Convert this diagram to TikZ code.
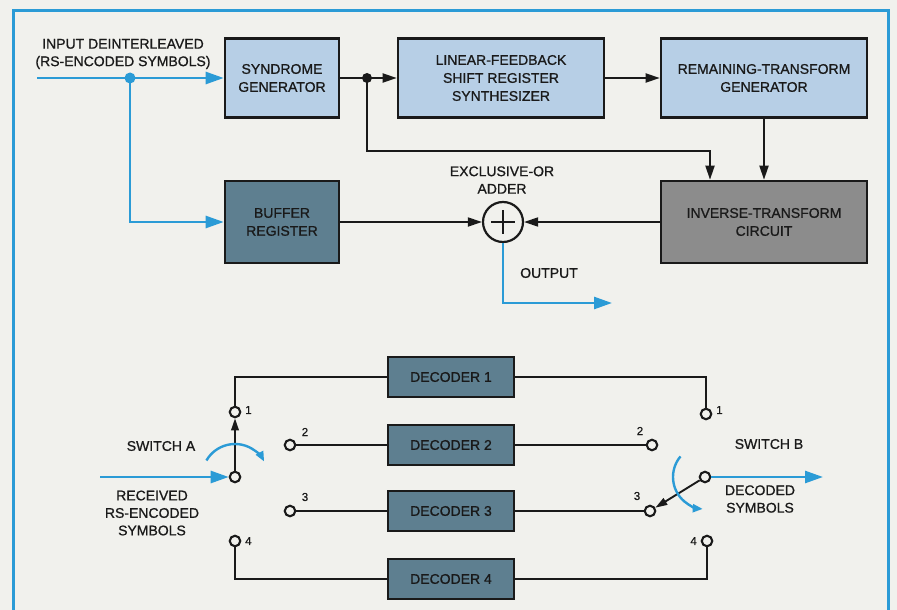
\documentclass[tikz,border=0pt]{standalone}
\usepackage{fontspec}
\setmainfont{Liberation Sans}[BoldFont={Liberation Sans}, BoldFeatures={FakeBold=0.9}]
\usetikzlibrary{arrows.meta,calc}

\definecolor{paper}{HTML}{F1F1ED}
\definecolor{frameblue}{HTML}{2B9BD6}
\definecolor{lightbox}{HTML}{B7CFE6}
\definecolor{darkbox}{HTML}{5E7F90}
\definecolor{greybox}{HTML}{8C8C8C}
\definecolor{ink}{HTML}{1A1A1A}

\tikzset{
  block/.style={draw=ink, line width=2.6pt, inner sep=0pt, align=center,
    font=\fontsize{14}{18}\selectfont\bfseries, text=ink},
  lightblock/.style={block, fill=lightbox},
  darkblock/.style={block, fill=darkbox, text=black!90},
  greyblock/.style={block, fill=greybox},
  wire/.style={draw=ink, line width=1.9pt},
  bluewire/.style={draw=frameblue, line width=2.6pt},
  tip/.style={-{Triangle[length=14pt,width=9pt]}},
  smalltip/.style={-{Triangle[length=12pt,width=7.5pt]}},
  bluetip/.style={-{Triangle[length=18pt,width=12pt]}},
  arctip/.style={-{Triangle[length=10pt,width=8pt]}},
  term/.style={circle, draw=ink, line width=2.1pt, fill=paper,
    minimum size=10.5pt, inner sep=0pt},
  lbl/.style={font=\fontsize{14}{17.5}\selectfont\bfseries, text=ink, align=center, inner sep=0pt},
  num/.style={font=\fontsize{11.5}{13}\selectfont\bfseries, text=ink, inner sep=0pt},
}

\begin{document}
\begin{tikzpicture}[x=1pt, y=-1pt]
  % page and frame
  \fill[paper] (0,0) rectangle (897,610);
  \useasboundingbox (0,0) rectangle (897,610);
  \draw[frameblue, line width=3pt] (13,612) -- (13,11) -- (888,11) -- (888,612);

  % ---------- decoder block diagram ----------
  \node[lightblock, minimum width=114pt, minimum height=79pt] (syn) at (282,78) {SYNDROME\\GENERATOR};
  \node[lightblock, minimum width=206pt, minimum height=79pt] (lfsr) at (501,78) {LINEAR-FEEDBACK\\SHIFT REGISTER\\SYNTHESIZER};
  \node[lightblock, minimum width=206pt, minimum height=79pt] (rtg) at (764,78) {REMAINING-TRANSFORM\\GENERATOR};
  \node[darkblock, minimum width=114pt, minimum height=82pt] (buf) at (282,222) {BUFFER\\REGISTER};
  \node[greyblock, minimum width=206pt, minimum height=82pt] (inv) at (764,222) {INVERSE-TRANSFORM\\CIRCUIT};
  \node[circle, draw=ink, line width=2.2pt, minimum size=40pt, inner sep=0pt, fill=paper] (xor) at (503,222) {};
  \draw[ink, line width=2.2pt] ($(xor)+(0,-12)$) -- ($(xor)+(0,12)$)
                               ($(xor)+(-12,0)$) -- ($(xor)+(12,0)$);

  \coordinate (in) at (37,78);
  \coordinate (j1) at (130,78);
  \coordinate (j2) at (367,78);
  \coordinate (fb) at (710,151);
  \coordinate (out) at (612,303);

  % input and its branch to the buffer
  \draw[bluewire, bluetip] (in) -- (syn.west);
  \draw[bluewire, bluetip] (j1) |- (buf.west);
  \fill[frameblue] (j1) circle (5.5pt);

  % black signal paths
  \draw[wire, tip] (syn.east) -- (lfsr.west);
  \fill[ink] (j2) circle (5pt);
  \draw[wire, tip] (j2) |- (fb) -- (fb |- inv.north);
  \draw[wire, tip] (lfsr.east) -- (rtg.west);
  \draw[wire, tip] (rtg.south) -- (inv.north);
  \draw[wire, tip] (buf.east) -- (xor.west);
  \draw[wire, tip] (inv.west) -- (xor.east);
  \draw[bluewire, bluetip] (xor.south) |- (out);

  \node[lbl] (inlbl) at (123,54) {INPUT DEINTERLEAVED\\(RS-ENCODED SYMBOLS)};
  \node[lbl] (xorlbl) at (502,180) {EXCLUSIVE-OR\\ADDER};
  \node[lbl] (outlbl) at (549,273) {OUTPUT};

  % ---------- interleaved decoders with rotary switches ----------
  \node[darkblock, minimum width=126pt, minimum height=40pt] (d1) at (451,377) {DECODER 1};
  \node[darkblock, minimum width=126pt, minimum height=40pt] (d2) at (451,445) {DECODER 2};
  \node[darkblock, minimum width=126pt, minimum height=40pt] (d3) at (451,511) {DECODER 3};
  \node[darkblock, minimum width=126pt, minimum height=40pt] (d4) at (451,579) {DECODER 4};

  % switch A terminals
  \node[term] (a1) at (235,412) {};
  \node[term] (a2) at (290,445) {};
  \node[term] (a3) at (290,511) {};
  \node[term] (a4) at (235,541) {};
  \node[term] (ac) at (235,477) {};
  % switch B terminals
  \node[term] (b1) at (706,414) {};
  \node[term] (b2) at (652,445) {};
  \node[term] (b3) at (650,511) {};
  \node[term] (b4) at (707,541) {};
  \node[term] (bc) at (705,477) {};

  \draw[wire] (a1) |- (d1.west);
  \draw[wire] (a2) -- (d2.west);
  \draw[wire] (a3) -- (d3.west);
  \draw[wire] (a4) |- (d4.west);
  \draw[wire] (b1) |- (d1.east);
  \draw[wire] (b2) -- (d2.east);
  \draw[wire] (b3) -- (d3.east);
  \draw[wire] (b4) |- (d4.east);

  % switch arms
  \draw[wire, smalltip] (ac) -- (a1);
  \draw[wire, smalltip] (bc) -- (b3);

  % rotation arrows
  \begin{scope}[shift={(ac)}, y=1pt]
    \draw[frameblue, line width=2.4pt, arctip] (150:33) arc[start angle=150, end angle=28, radius=33];
  \end{scope}
  \begin{scope}[shift={(bc)}, y=1pt]
    \draw[frameblue, line width=2.4pt, arctip] (140:32) arc[start angle=140, end angle=266, radius=32];
  \end{scope}

  % serial input and output
  \coordinate (rin) at (100,477);
  \coordinate (rout) at (823,477);
  \draw[bluewire, bluetip] (rin) -- (ac);
  \draw[bluewire, bluetip] (bc) -- (rout);

  % terminal numbers
  \node[num, anchor=west] at ($(a1)+(10,-2)$) {1};
  \node[num] at (305,432) {2};
  \node[num] at (305,497) {3};
  \node[num, anchor=west] at ($(a4)+(10,0)$) {4};
  \node[num, anchor=west] at ($(b1)+(10,-4)$) {1};
  \node[num] at (640,431) {2};
  \node[num] at (637,496) {3};
  \node[num, anchor=east] at ($(b4)+(-10,0)$) {4};

  \node[lbl] (swa) at (161,446) {SWITCH A};
  \node[lbl] (rxlbl) at (152,513) {RECEIVED\\RS-ENCODED\\SYMBOLS};
  \node[lbl] (swb) at (769,444) {SWITCH B};
  \node[lbl] (declbl) at (760,499) {DECODED\\SYMBOLS};
\end{tikzpicture}
\end{document}
